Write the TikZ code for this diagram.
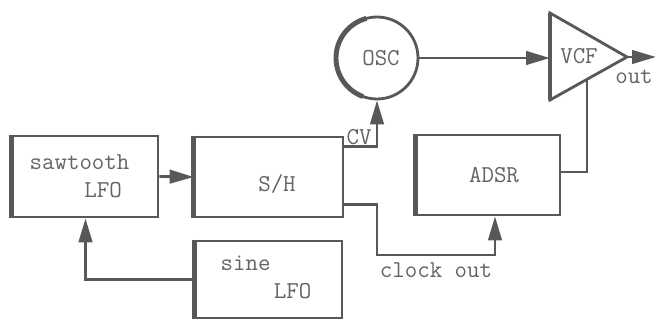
\documentclass[tikz,border=0pt]{standalone}
\usepackage{fontspec}
\usetikzlibrary{arrows.meta}
\definecolor{ink}{RGB}{88,88,88}
\definecolor{typeink}{RGB}{100,100,100}
\begin{document}
\begin{tikzpicture}[x=0.02cm, y=-0.02cm,
    every node/.style={text=typeink, font=\fontsize{13.8}{16}\selectfont\ttfamily},
    block/.style={rectangle, draw=ink, line width=1.6pt, fill=white},
    edge/.style={draw=ink, line width=2.8pt},
    wire/.style={draw=ink, line width=1.6pt},
    sig/.style={wire, -{Triangle[length=0.48cm, width=0.27cm]}}]
    \useasboundingbox (0,0) rectangle (657,323);

    % Boxes
    \node[block, minimum width=2.9cm, minimum height=1.62cm] (saw) at (85.5,176.5) {};
    \node[align=left, xshift=-0.12cm] (sawtxt) at (saw) {sawtooth\\\hspace*{2.26em}LFO};
    \node[block, minimum width=2.96cm, minimum height=1.6cm] (sh) at (269,177) {};
    \node (shtxt) at (277,184) {S/H};
    \node[block, minimum width=2.92cm, minimum height=1.54cm] (sine) at (269,279.5) {};
    \node[align=left] (sinetxt) at (266,277) {sine\\\hspace*{2.2em}LFO};
    \node[block, minimum width=2.86cm, minimum height=1.6cm] (adsr) at (488.5,175) {};
    \node (adsrtxt) at (494,175) {ADSR};

    % thick left edges
    \draw[edge] (saw.north west) -- (saw.south west);
    \draw[edge] (sh.north west) -- (sh.south west);
    \draw[edge] (sine.north west) -- (sine.south west);
    \draw[edge] (adsr.north west) -- (adsr.south west);

    % Oscillator, thicker on its left
    \node[circle, draw=ink, line width=1.6pt, minimum size=1.64cm] (osc) at (377,58) {};
    \draw[edge] plot[domain=105:250, samples=40] ({377+41*cos(\x)}, {58-41*sin(\x)});
    \node (osctxt) at (381,58) {OSC};

    % Filter
    \coordinate (vcftop) at (550,13);
    \coordinate (vcfbot) at (550,100);
    \coordinate (vcfin) at (550,58);
    \coordinate (vcftip) at (627,57);
    \coordinate (vcflow) at (587,79);
    \coordinate (outend) at (656,57);
    \draw[wire, line join=miter] (vcftop) -- (vcftip) -- (vcfbot) -- cycle;
    \draw[edge] (vcftop) -- (vcfbot);
    \node (vcftxt) at (579,56) {VCF};

    % Connections
    \draw[sig] (saw.east) -- (sh.west);
    \draw[sig] (sine.west) -| (saw.south);
    \draw[sig] ([yshift=-0.22cm]sh.north east) -| (osc.south);
    \coordinate (clk) at (377,255);
    \draw[sig] ([yshift=0.28cm]sh.south east) -| (clk) -| ([xshift=0.13cm]adsr.south);
    \draw[sig] (osc.east) -- (vcfin);
    \draw[wire] ([yshift=0.06cm]adsr.east) -| (vcflow);
    \draw[sig] (vcftip) -- (outend);

    % Labels
    \node (cv) at (359,137) {CV};
    \node (out) at (634,77) {out};
    \node (clkout) at (436,270) {clock out};
\end{tikzpicture}
\end{document}
